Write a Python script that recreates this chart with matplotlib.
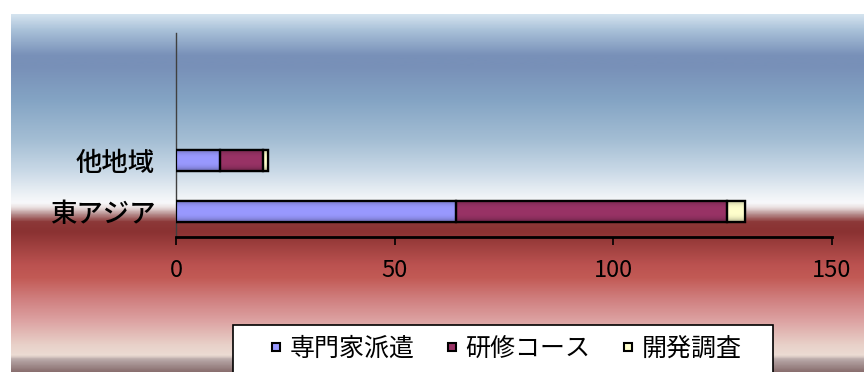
import numpy as np
import matplotlib
matplotlib.use("Agg")
import matplotlib.pyplot as plt
from matplotlib.colors import LinearSegmentedColormap, to_rgb
from matplotlib.lines import Line2D
from matplotlib.patches import Rectangle

plt.rcParams['font.family'] = ['Noto Sans CJK JP', 'DejaVu Sans']

# Data
regions = ["東アジア", "他地域"]
series_names = ["専門家派遣", "研修コース", "開発調査"]
expert_dispatch = [64, 10]
training_course = [62, 10]
dev_survey = [4, 1]
series_values = [expert_dispatch, training_course, dev_survey]
series_colors = ["#9999ff", "#993366", "#ffffcc"]
x_ticks = [0, 50, 100, 150]

W, H = 864, 372
fig = plt.figure(figsize=(W / 100, H / 100), dpi=100)
fig.patch.set_facecolor("white")

# Background band: vertical gradient (sky blue -> white -> deep red -> pale pink)
bg_top, bg_left = 14, 11
stops_px = [14, 30, 55, 66, 100, 140, 170, 195, 203, 208, 214, 222, 232,
            265, 278, 300, 320, 345, 356, 360, 372]
stops_col = ["#d4e3ef", "#a8c0d8", "#7890b8", "#7890b8", "#84a4c4", "#a4bed4",
             "#c8d8e6", "#eef2f6", "#f8f9fb", "#e8dcdc", "#b89090", "#8c3838",
             "#8a3232", "#bb5250", "#c25a55", "#d08080", "#dca0a0", "#e8d0c8",
             "#ecdcd4", "#b8a8a8", "#8a7070"]
pos = [(p - bg_top) / (H - bg_top) for p in stops_px]
cmap_bg = LinearSegmentedColormap.from_list("bg", list(zip(pos, stops_col)))
bg_ax = fig.add_axes([bg_left / W, 0, 1 - bg_left / W, (H - bg_top) / H])
bg_ax.imshow(np.linspace(0, 1, 512).reshape(-1, 1), aspect="auto",
             cmap=cmap_bg, extent=[0, 1, 1, 0])
bg_ax.set_xlim(0, 1)
bg_ax.set_ylim(1, 0)
bg_ax.axis("off")
bg_ax.set_zorder(-10)

# Plot area
ax = fig.add_axes([176 / W, 1 - 237 / H, (832 - 176) / W, (237 - 33) / H])
ax.patch.set_alpha(0)

y_pos = np.arange(len(regions))
bar_h = 0.42
left = np.zeros(len(regions))
for name, vals, col in zip(series_names, series_values, series_colors):
    bars = ax.barh(y_pos, vals, height=bar_h, left=left, color=col,
                   edgecolor="black", linewidth=1.6, zorder=3, label=name)
    # shaded tube look inside each segment
    base = np.array(to_rgb(col))
    t = np.linspace(-1, 1, 64)
    shade = 1 - 0.35 * np.abs(t) ** 3
    grad = np.clip(base[None, :] * shade[:, None], 0, 1)[:, None, :]
    for b in bars:
        x0, y0 = b.get_x(), b.get_y()
        w, h = b.get_width(), b.get_height()
        im = ax.imshow(grad, aspect="auto", extent=[x0, x0 + w, y0, y0 + h],
                       zorder=3.5, interpolation="bilinear")
        im.set_clip_path(b)
        edge = Rectangle((x0, y0), w, h, facecolor="none", edgecolor="black",
                         linewidth=1.6, zorder=4)
        ax.add_patch(edge)
    left = left + np.array(vals)

ax.set_xlim(0, 150)
ax.set_ylim(-0.5, 3.5)
ax.set_xticks(x_ticks)
ax.set_xticklabels([str(v) for v in x_ticks])
ax.set_yticks(y_pos)
ax.set_yticklabels(regions, fontweight="medium")
ax.tick_params(axis="x", direction="out", length=6, width=1.2, labelsize=17,
               pad=10, color="black")
ax.tick_params(axis="y", length=0, labelsize=19, pad=15)
for s in ["top", "right"]:
    ax.spines[s].set_visible(False)
ax.spines["bottom"].set_linewidth(2)
ax.spines["bottom"].set_color("black")
ax.spines["left"].set_linewidth(1)
ax.spines["left"].set_color("#404040")

# Legend box (runs past the bottom edge)
fig.patches.append(Rectangle((233 / W, 1 - 385 / H), (773 - 233) / W, (385 - 325) / H,
                             transform=fig.transFigure, facecolor="white",
                             edgecolor="black", linewidth=1.2, zorder=5))
handles = [Line2D([], [], linestyle="none", marker="s", markersize=6,
                  markerfacecolor=c, markeredgecolor="black", markeredgewidth=1.5)
           for c in series_colors]
leg = fig.legend(handles, series_names, loc="center", ncol=3,
                 bbox_to_anchor=(505 / W, 1 - 349 / H), frameon=False,
                 fontsize=18, handlelength=0.6, handletextpad=0.25,
                 columnspacing=1.2)
leg.set_zorder(6)

fig.savefig("out.png", dpi=100, facecolor=fig.get_facecolor())
